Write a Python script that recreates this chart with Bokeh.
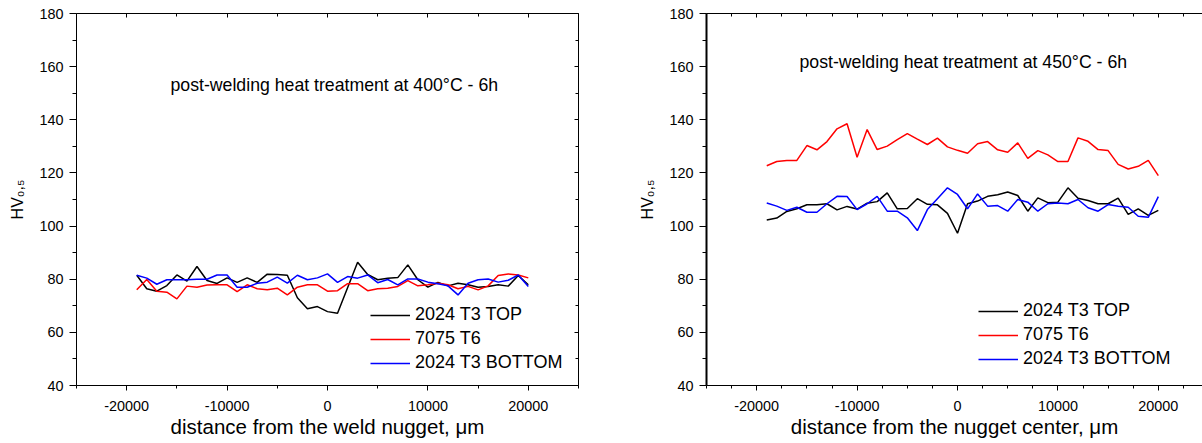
from bokeh.plotting import figure
from bokeh.layouts import row
from bokeh.models import (FixedTicker, LinearAxis, Label, Legend, LegendItem,
                          CustomJSTickFormatter, Range1d)
from bokeh.embed import file_html
from bokeh.resources import INLINE

# ---------------- data ----------------
distance = list(range(-19000, 20001, 1000))

top_400 = [81.5, 76.4, 75.5, 77.6, 81.6, 79.3, 84.8, 79.5, 78.4, 80.5,
           78.8, 80.5, 78.8, 81.9, 81.8, 81.5, 73.0, 68.9, 69.7, 67.8,
           67.2, 76.8, 86.4, 81.8, 79.8, 80.4, 80.6, 85.4, 79.8, 77.0,
           78.8, 77.5, 78.5, 77.9, 77.0, 77.3, 77.9, 77.4, 81.4, 77.9]
t6_400 = [76.0, 79.9, 75.5, 75.1, 72.6, 77.4, 77.0, 77.8, 77.9, 77.9,
          75.3, 77.9, 76.4, 76.0, 76.6, 74.1, 77.0, 77.9, 77.9, 75.5,
          75.7, 78.3, 78.3, 75.7, 76.4, 76.6, 77.3, 79.5, 77.5, 77.9,
          78.5, 77.9, 76.4, 77.3, 76.0, 77.5, 81.4, 82.0, 81.6, 80.5]
bottom_400 = [81.5, 80.4, 78.1, 79.8, 79.8, 79.8, 80.0, 80.0, 81.6, 81.6,
              77.0, 77.0, 78.5, 78.9, 80.8, 78.5, 81.5, 79.8, 80.5, 82.0,
              78.8, 81.0, 80.4, 81.6, 78.7, 79.9, 77.9, 80.1, 80.1, 78.9,
              78.3, 77.5, 74.1, 78.5, 79.8, 80.1, 78.9, 79.6, 81.6, 77.3]

top_450 = [102.3, 103.0, 105.5, 106.5, 108.0, 108.0, 108.4, 106.1, 107.4, 106.4,
           108.6, 109.2, 112.5, 106.5, 106.6, 110.3, 108.2, 108.0, 104.8, 97.3,
           108.4, 109.4, 111.2, 111.8, 112.8, 111.5, 105.6, 110.6, 108.8, 109.0,
           114.4, 110.5, 109.6, 108.4, 108.4, 110.5, 104.4, 106.5, 104.0, 105.9]
t6_450 = [122.7, 124.3, 124.7, 124.7, 130.3, 128.7, 131.8, 136.6, 138.5, 125.9,
          136.3, 128.8, 130.1, 132.5, 134.8, 132.7, 130.7, 133.1, 129.8, 128.5,
          127.4, 131.0, 131.8, 128.7, 127.8, 131.3, 125.5, 128.4, 126.8, 124.3,
          124.3, 133.2, 131.9, 128.8, 128.4, 123.2, 121.5, 122.5, 124.7, 119.0]
bottom_450 = [108.7, 107.5, 105.9, 107.1, 105.2, 105.2, 108.4, 111.2, 111.1, 106.2,
              108.4, 111.2, 105.6, 105.6, 103.1, 98.3, 106.2, 110.3, 114.4, 111.9,
              106.5, 112.1, 107.5, 107.7, 105.6, 110.0, 109.0, 105.6, 108.4, 108.7,
              108.4, 110.0, 106.9, 105.6, 108.1, 107.5, 107.1, 103.7, 103.3, 111.1]

series_names = ["2024 T3 TOP", "7075 T6", "2024 T3 BOTTOM"]
series_colors = ["#000000", "#ff0000", "#0000ff"]

x_major = [-20000, -10000, 0, 10000, 20000]
x_minor_left = [-25000, -15000, -5000, 5000, 15000, 25000]
x_minor_right = [v for v in range(-25000, 25001, 2500) if v % 10000 != 0]
y_major = [40, 60, 80, 100, 120, 140, 160, 180]
y_minor = [50, 70, 90, 110, 130, 150, 170]

titles = ["post-welding heat treatment at 400\u00b0C - 6h",
          "post-welding heat treatment at 450\u00b0C - 6h"]
xlabels = ["distance from the weld nugget, \u03bcm",
           "distance from the nugget center, \u03bcm"]
ylabel = "HV\u2080,\u2085"

FONT = "Liberation Sans"


def style_axis(ax, labels=True, tick_in=0, tick_out=5, minor_in=0, minor_out=3):
    ax.axis_line_color = "black"
    ax.axis_line_width = 1
    ax.major_tick_line_color = "black"
    ax.minor_tick_line_color = "black"
    ax.major_tick_in = tick_in
    ax.major_tick_out = tick_out
    ax.minor_tick_in = minor_in
    ax.minor_tick_out = minor_out
    if labels:
        ax.formatter = CustomJSTickFormatter(code="return tick.toFixed(0)")
        ax.major_label_text_font = FONT
        ax.major_label_text_font_size = "14.4px"
        ax.major_label_text_color = "black"
        ax.axis_label_text_font = FONT
        ax.axis_label_text_font_style = "normal"
        ax.axis_label_text_color = "black"
    else:
        ax.formatter = CustomJSTickFormatter(code="return ''")
        ax.major_label_text_font_size = "0px"
        ax.major_label_standoff = 0


def make_fig(width, bl, br, x_end, x_minor, ys, title, title_xy, xlabel,
             legend_xy, right_axis, left_lw):
    p = figure(width=width, height=443, x_range=Range1d(-25000, x_end),
               y_range=Range1d(40, 180), output_backend="svg",
               toolbar_location=None, x_axis_location=None,
               y_axis_location=None, min_border_left=bl, min_border_right=br,
               min_border_top=13, min_border_bottom=58)
    p.outline_line_color = None
    p.xgrid.grid_line_color = None
    p.ygrid.grid_line_color = None
    p.background_fill_color = "white"
    p.border_fill_color = "white"

    bottom = LinearAxis(ticker=FixedTicker(ticks=x_major, minor_ticks=x_minor),
                        axis_label=xlabel)
    style_axis(bottom, True, 0, 5, 0, 3)
    bottom.major_label_standoff = 10
    bottom.axis_label_text_font_size = "20.5px"
    bottom.axis_label_standoff = 1
    p.add_layout(bottom, "below")

    left = LinearAxis(ticker=FixedTicker(ticks=y_major, minor_ticks=y_minor),
                      axis_label=ylabel)
    style_axis(left, True, 0, 7, 0, 4)
    left.axis_line_width = left_lw
    left.major_label_standoff = 6
    left.axis_label_text_font_size = "16px"
    left.axis_label_standoff = 10
    p.add_layout(left, "left")

    top = LinearAxis(ticker=FixedTicker(ticks=x_major, minor_ticks=x_minor))
    style_axis(top, False, 4, 0, 3, 0)
    p.add_layout(top, "above")

    if right_axis:
        right = LinearAxis(ticker=FixedTicker(ticks=y_major, minor_ticks=y_minor))
        style_axis(right, False, 4, 0, 3, 0)
        p.add_layout(right, "right")

    items = []
    for name, col, y in zip(series_names, series_colors, ys):
        r = p.line(distance, y, line_color=col, line_width=1.5)
        items.append(LegendItem(label=name, renderers=[r]))

    legend = Legend(items=items, location=legend_xy, padding=0, margin=0,
                    spacing=3, glyph_width=40, glyph_height=20, label_height=20,
                    label_standoff=5, label_text_font=FONT,
                    label_text_font_size="18px", label_text_color="black",
                    background_fill_alpha=0, border_line_color=None)
    p.add_layout(legend, "center")

    p.add_layout(Label(x=title_xy[0], y=title_xy[1], x_units="screen",
                       y_units="screen", text=title, text_font=FONT,
                       text_font_size="17.7px", text_color="black",
                       text_baseline="middle", text_align="left"))
    return p


p1 = make_fig(618, 76, 40, 25000, x_minor_left, [top_400, t6_400, bottom_400],
              titles[0], (94, 301), xlabels[0], (294, 12), True, 1)
p2 = make_fig(584, 88, 0, 24400, x_minor_right, [top_450, t6_450, bottom_450],
              titles[1], (93, 324), xlabels[1], (272, 16), False, 2)

layout = row(p1, p2)
open("out.html", "w").write(file_html(layout, INLINE))
